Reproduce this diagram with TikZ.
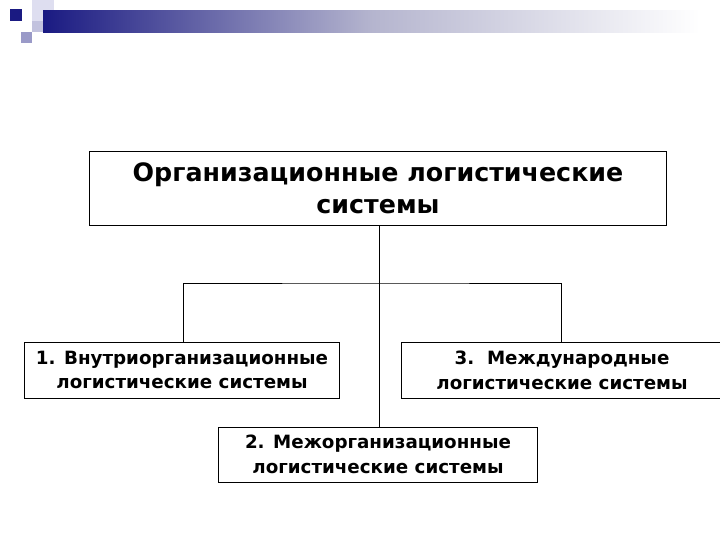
\documentclass[tikz,border=0pt]{standalone}
\usepackage{fontspec}
\setmainfont{DejaVu Sans}
\usepackage{tikz}
\usetikzlibrary{positioning}

\definecolor{decoNavy}{RGB}{26,26,130}
\definecolor{decoLight}{RGB}{222,222,240}
\definecolor{decoMid}{RGB}{154,154,200}

\begin{document}
\begin{tikzpicture}[
    x=0.025cm, y=-0.025cm, line width=0.7pt,
    every node/.style={draw, align=center, inner sep=0pt, font=\bfseries},
    topbox/.style={rectangle, minimum width=14.4cm, minimum height=1.85cm, font=\fontsize{18}{22.5}\selectfont\bfseries},
    subbox/.style={rectangle, minimum width=7.9cm, minimum height=1.4cm, font=\fontsize{13}{17.7}\selectfont\bfseries}
]
\useasboundingbox (0,0) rectangle (720,540);

% top left decoration
\fill[decoLight] (32,0) rectangle (54,22);
\fill[decoMid!60] (32,21) rectangle (43,32);
\shade[left color=decoNavy, right color=white, middle color=decoMid!80!gray!70] (43,10) rectangle (700,32);
\fill[decoNavy] (10,9) rectangle (22,21);
\fill[decoMid] (21,32) rectangle (32,43);

\node (org_systems) [topbox] at (378,188) {Организационные логистические\\ системы};
\node (intra_systems) [subbox, minimum width=7.875cm] at (182,370) {1. Внутриорганизационные\\ логистические системы};
\node (intl_systems) [subbox, minimum width=8cm] at (562,370) {3.\ \ Международные\\ логистические системы};
\node (inter_systems) [subbox, minimum width=7.95cm, minimum height=1.375cm] at (378,454.5) {2. Межорганизационные\\ логистические системы};
\coordinate (split) at (379,283);

\draw (org_systems.south -| split) -- (inter_systems.north -| split);
\draw (intra_systems.north -| 183,0) |- (split) -| (intl_systems.north -| 561,0);
\end{tikzpicture}
\end{document}
